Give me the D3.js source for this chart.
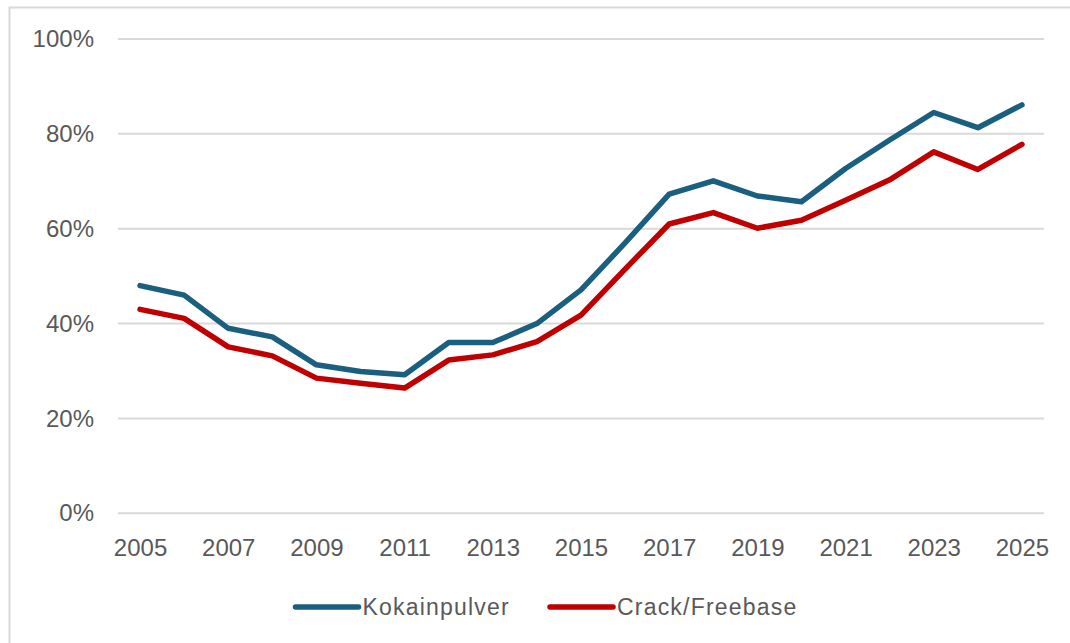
<!DOCTYPE html>
<html>
<head>
<meta charset="utf-8">
<script src="https://cdn.jsdelivr.net/npm/d3@7"></script>
<style>
  html, body { margin: 0; padding: 0; background: #fff; }
  svg { display: block; }
</style>
</head>
<body>
<svg id="chart" width="1070" height="643"></svg>
<script>
const years = [2005, 2006, 2007, 2008, 2009, 2010, 2011, 2012, 2013, 2014, 2015,
               2016, 2017, 2018, 2019, 2020, 2021, 2022, 2023, 2024, 2025];
const kokainpulver = [48.0, 46.0, 39.0, 37.2, 31.3, 29.9, 29.2, 36.0, 36.0, 40.0, 47.1,
                      57.0, 67.3, 70.1, 66.9, 65.7, 72.7, 78.7, 84.5, 81.3, 86.1];
const crackFreebase = [43.0, 41.1, 35.1, 33.2, 28.5, 27.4, 26.4, 32.3, 33.4, 36.2, 41.8,
                       51.5, 61.0, 63.4, 60.1, 61.8, 66.0, 70.3, 76.2, 72.5, 77.8];
const seriesNames = ["Kokainpulver", "Crack/Freebase"];
const seriesColors = ["#1B5F80", "#C00000"];
const yTicks = [0, 20, 40, 60, 80, 100];
const xTickLabels = [2005, 2007, 2009, 2011, 2013, 2015, 2017, 2019, 2021, 2023, 2025];

const series = [
  { name: seriesNames[0], values: kokainpulver, color: seriesColors[0] },
  { name: seriesNames[1], values: crackFreebase, color: seriesColors[1] }
];

const svg = d3.select("#chart");
const font = "'Liberation Sans', Arial, sans-serif";
const textColor = "#595959";
const gridColor = "#D9D9D9";

// outer border (cropped on right & bottom)
svg.append("rect")
  .attr("x", 9.5).attr("y", 7.5)
  .attr("width", 1100).attr("height", 700)
  .attr("fill", "none").attr("stroke", gridColor).attr("stroke-width", 2);

const plotLeft = 118, plotRight = 1044, plotTop = 39, plotBottom = 513.3;

const x = d3.scalePoint().domain(years).range([plotLeft, plotRight]).padding(0.5);
const y = d3.scaleLinear().domain([0, 100]).range([plotBottom, plotTop]);

// gridlines
svg.append("g").selectAll("line").data(yTicks).join("line")
  .attr("x1", plotLeft).attr("x2", plotRight)
  .attr("y1", d => y(d)).attr("y2", d => y(d))
  .attr("stroke", gridColor).attr("stroke-width", 2);

// y axis
const yAxis = svg.append("g")
  .attr("transform", `translate(${plotLeft},0)`)
  .call(d3.axisLeft(y).tickValues(yTicks).tickSize(0).tickPadding(24).tickFormat(d => d + "%"));
yAxis.select(".domain").remove();
yAxis.selectAll("text")
  .attr("font-family", font).attr("font-size", 24).attr("fill", textColor);

// x axis
const xAxis = svg.append("g")
  .attr("transform", `translate(0,${plotBottom})`)
  .call(d3.axisBottom(x).tickValues(xTickLabels).tickSize(0));
xAxis.select(".domain").remove();
xAxis.selectAll("text")
  .attr("y", 34).attr("dy", "0.35em")
  .attr("font-family", font).attr("font-size", 24).attr("fill", textColor);

// lines
const line = d3.line()
  .x((d, i) => x(years[i]))
  .y(d => y(d));

svg.append("g").selectAll("path").data(series).join("path")
  .attr("d", d => line(d.values))
  .attr("fill", "none")
  .attr("stroke", d => d.color)
  .attr("stroke-width", 5.5)
  .attr("stroke-linejoin", "round")
  .attr("stroke-linecap", "round");

// legend
const legendX = [295.5, 550];
const legendY = 607;
const lg = svg.append("g").selectAll("g").data(series).join("g")
  .attr("transform", (d, i) => `translate(${legendX[i]},${legendY})`);
lg.append("line")
  .attr("x1", 0).attr("x2", 63).attr("y1", 0).attr("y2", 0)
  .attr("stroke", d => d.color).attr("stroke-width", 5.5).attr("stroke-linecap", "round");
lg.append("text")
  .attr("x", 67).attr("y", 0).attr("dy", "0.35em")
  .attr("font-family", font).attr("font-size", 23).attr("letter-spacing", "1.2px")
  .attr("fill", textColor)
  .text(d => d.name);
</script>
</body>
</html>
